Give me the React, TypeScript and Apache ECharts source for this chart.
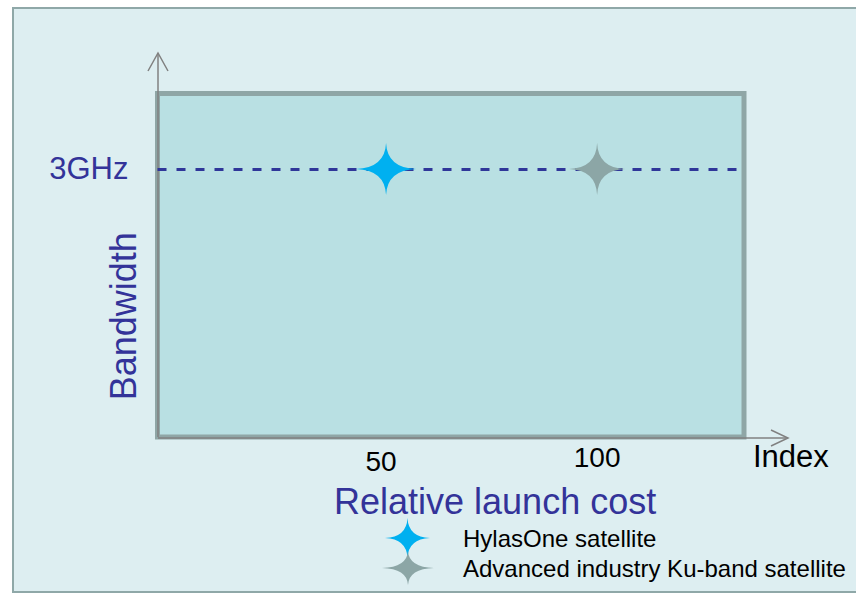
import React, { useEffect, useRef } from "react";
import * as echarts from "echarts";

const seriesNames = ["HylasOne satellite", "Advanced industry Ku-band satellite"];
const launchCost = [50, 100];
const bandwidthGHz = [3, 3];
const xTickValues = [50, 100];
const yTickValues = [3];
const yTickLabel = "3GHz";
const referenceBandwidth = 3;

const FONT = "Liberation Sans, Arial, sans-serif";
const STAR =
  "path://M50,0 Q52,48 100,50 Q52,52 50,100 Q48,52 0,50 Q48,48 50,0 Z";
const starColors = ["#00B0F0", "#8CA6A6"];
const starSizes: [number, number][] = [
  [60, 52],
  [56, 52],
];

export default function App() {
  const ref = useRef<HTMLDivElement>(null);
  useEffect(() => {
    if (!ref.current) return;
    const chart = echarts.init(ref.current, undefined, { renderer: "svg" });
    const arrowStyle = { stroke: "#808080", lineWidth: 1.5, fill: "none" };
    chart.setOption({
      animation: false,
      backgroundColor: "transparent",
      grid: {
        left: 157.5,
        right: 112,
        top: 93.5,
        bottom: 157,
        outerBoundsMode: "none",
        containLabel: false,
        show: true,
        backgroundColor: "#B9E0E3",
        borderColor: "#8FA6A6",
        borderWidth: 5,
      },
      xAxis: {
        type: "value",
        min: -4.15,
        max: 134.8,
        splitLine: { show: false },
        axisLine: { show: false },
        axisTick: { show: false },
        axisLabel: {
          customValues: xTickValues,
          margin: 6,
          color: "#000",
          fontSize: 28,
          fontFamily: FONT,
          formatter: (v: number) => (v === 50 ? `{a|${v}}` : `{b|${v}}`),
          rich: {
            a: { fontSize: 28, fontFamily: FONT, color: "#000", padding: [4, 10, 0, 0] },
            b: { fontSize: 28, fontFamily: FONT, color: "#000", padding: [0, 0, 0, 0] },
          },
        },
        name: "Index",
        nameLocation: "end",
        nameGap: 9,
        nameMoveOverlap: false,
        nameTextStyle: {
          fontSize: 31,
          fontFamily: FONT,
          color: "#000",
          align: "left",
          verticalAlign: "top",
          padding: [4, 0, 0, 0],
        },
      },
      yAxis: {
        type: "value",
        min: 0,
        max: 3.845,
        splitLine: { show: false },
        axisLine: { show: false },
        axisTick: { show: false },
        axisLabel: {
          customValues: yTickValues,
          formatter: () => yTickLabel,
          margin: 29,
          color: "#333399",
          fontSize: 31,
          fontFamily: FONT,
        },
        name: "Bandwidth",
        nameLocation: "middle",
        nameGap: 16,
        nameRotate: 90,
        nameMoveOverlap: false,
        nameTextStyle: {
          fontSize: 36,
          fontFamily: FONT,
          color: "#333399",
          padding: [0, 102, 0, 0],
        },
      },
      title: {
        text: "Relative launch cost",
        left: 334,
        top: 483,
        padding: 0,
        textStyle: {
          fontSize: 36,
          fontWeight: "normal",
          fontFamily: FONT,
          color: "#333399",
        },
      },
      legend: [
        {
          data: [{ name: seriesNames[0], icon: STAR }],
          left: 385,
          top: 518,
          padding: 0,
          itemWidth: 45,
          itemHeight: 40,
          symbolKeepAspect: false,
          selectedMode: false,
          textStyle: { fontSize: 24, fontFamily: FONT, color: "#000", padding: [0, 0, 0, 28] },
        },
        {
          data: [{ name: seriesNames[1], icon: STAR }],
          left: 382,
          top: 551,
          padding: 0,
          itemWidth: 52,
          itemHeight: 34,
          symbolKeepAspect: false,
          selectedMode: false,
          textStyle: { fontSize: 24, fontFamily: FONT, color: "#000", padding: [0, 0, 0, 24] },
        },
      ],
      graphic: {
        z: 100,
        elements: [
          { type: "line", shape: { x1: 158, y1: 437, x2: 158, y2: 53 }, style: arrowStyle, silent: true },
          { type: "polyline", shape: { points: [[148, 71], [158, 53], [168, 71]] }, style: arrowStyle, silent: true },
          { type: "line", shape: { x1: 158, y1: 438, x2: 788, y2: 438 }, style: arrowStyle, silent: true },
          { type: "polyline", shape: { points: [[771, 430], [788, 438], [771, 446]] }, style: arrowStyle, silent: true },
        ],
      },
      series: [
        {
          type: "line",
          name: "ref",
          data: [],
          z: 1,
          markLine: {
            silent: true,
            symbol: "none",
            label: { show: false },
            lineStyle: { color: "#2F3699", width: 3, type: [9, 10] },
            data: [{ yAxis: referenceBandwidth }],
          },
        },
        ...seriesNames.map((name, i) => ({
          type: "scatter",
          name,
          z: 5,
          symbol: STAR,
          symbolSize: starSizes[i],
          itemStyle: { color: starColors[i], opacity: 1 },
          data: [[launchCost[i], bandwidthGHz[i]]],
        })),
      ],
    });
    return () => chart.dispose();
  }, []);

  return (
    <div
      style={{
        position: "fixed",
        left: 0,
        top: 0,
        width: 856,
        height: 594,
        overflow: "hidden",
        background: "#fff",
      }}
    >
      <div
        style={{
          position: "absolute",
          left: 12,
          top: 7,
          width: 900,
          height: 586,
          background: "#DDEEF1",
          border: "2px solid #8FA8A8",
          boxSizing: "border-box",
        }}
      />
      <div ref={ref} style={{ position: "absolute", left: 0, top: 0, width: 856, height: 594 }} />
    </div>
  );
}
